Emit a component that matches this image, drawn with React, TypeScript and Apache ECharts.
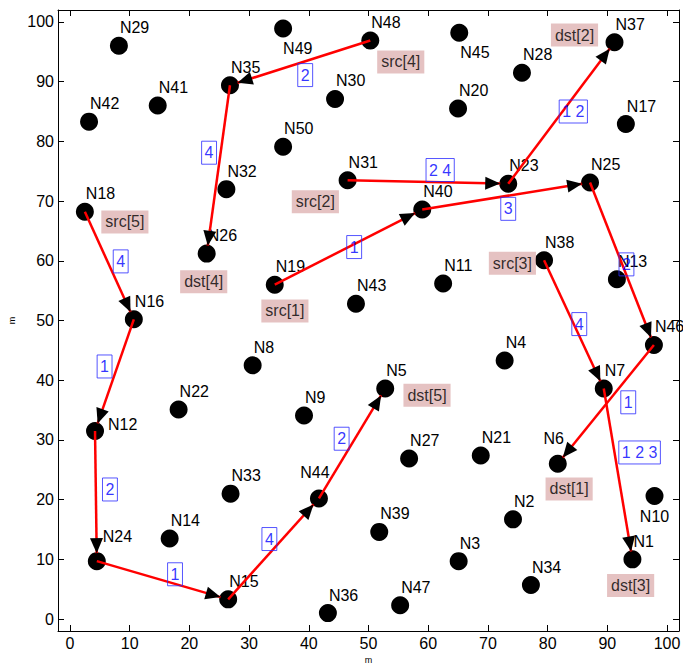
import React, { useEffect, useRef } from "react";
import * as echarts from "echarts";

// Node positions (m), node i+1 at index i
const NODE_X = [
  94.2, 74.2, 65.1, 72.8, 52.8, 81.7, 89.4, 30.6, 39.2, 97.9,
  62.5, 4.2, 91.6, 16.7, 26.5, 10.7, 93.1, 2.5, 34.3, 65.0,
  68.8, 18.2, 73.4, 4.5, 87.1, 22.9, 56.8, 75.7, 8.2, 44.4,
  46.5, 26.2, 26.9, 77.2, 26.8, 43.2, 91.2, 79.4, 51.8, 59.0,
  14.7, 3.2, 47.9, 41.7, 65.2, 97.8, 55.3, 50.3, 35.7, 35.7,
];
const NODE_Y = [
  10.0, 16.7, 9.7, 43.3, 38.6, 26.0, 38.6, 42.5, 34.1, 20.6,
  56.2, 31.5, 56.9, 13.5, 3.3, 50.2, 82.9, 68.2, 56.0, 85.5,
  27.4, 35.1, 72.9, 9.7, 73.1, 61.2, 26.9, 91.5, 96.0, 87.1,
  73.5, 72.0, 21.0, 5.7, 89.4, 1.0, 96.6, 60.1, 14.6, 68.6,
  86.0, 83.3, 52.8, 20.2, 98.2, 45.9, 2.3, 96.9, 98.9, 79.1,
];
const NODE_NAMES = NODE_X.map((_, i) => `N${i + 1}`);

// Directed hops (node numbers) and the flow ids carried on each hop
const EDGE_FROM = [48, 35, 31, 40, 19, 23, 25, 38, 46, 7, 18, 16, 12, 24, 15, 44];
const EDGE_TO = [35, 26, 23, 25, 40, 37, 46, 7, 6, 1, 16, 12, 24, 15, 44, 5];
const EDGE_LABELS = ["2", "4", "2 4", "3", "1", "1 2", "2", "4", "1", "1 2 3", "4", "1", "2", "1", "4", "2"];
const EDGE_LABEL_X = [39.4, 23.3, 62.0, 73.4, 47.6, 84.3, 93.2, 85.3, 93.5, 95.4, 8.5, 5.8, 6.7, 17.6, 33.4, 45.5];
const EDGE_LABEL_Y = [91.1, 78.1, 75.2, 68.7, 62.3, 85.0, 59.4, 49.4, 36.3, 27.9, 59.9, 42.3, 21.7, 7.5, 13.4, 30.2];

// Source / destination tags
const TAG_TEXT = ["src[1]", "src[2]", "src[3]", "src[4]", "src[5]", "dst[1]", "dst[2]", "dst[3]", "dst[4]", "dst[5]"];
const TAG_X = [36.0, 41.1, 74.1, 55.4, 9.2, 83.6, 84.5, 93.9, 22.4, 59.8];
const TAG_Y = [51.6, 69.9, 59.6, 93.3, 66.5, 21.8, 97.8, 5.6, 56.5, 37.5];

const FONT = "Liberation Sans, Arial, Helvetica, sans-serif";

// Where each node name sits relative to its marker (pixels)
const LABEL_SPOT: Record<string, { offset: [number, number]; align: string }> = {
  N12: { offset: [13, -6], align: "left" },
  N24: { offset: [6, -25], align: "left" },
  N44: { offset: [-4, -26], align: "center" },
  N6: { offset: [-4, -25], align: "center" },
  N10: { offset: [0, 20], align: "center" },
  N45: { offset: [1, 20], align: "left" },
  N49: { offset: [0, 20], align: "left" },
};
const DEFAULT_SPOT = { offset: [1, -18] as [number, number], align: "left" };

function frameAxis(position: string, primary: boolean, name?: string) {
  const isX = position === "bottom" || position === "top";
  return {
    type: "value",
    position,
    min: -2,
    max: 102,
    splitNumber: 10,
    minInterval: 10,
    maxInterval: 10,
    name: primary ? name : undefined,
    nameLocation: "middle",
    nameGap: isX ? 20 : 35,
    nameTextStyle: { fontSize: 9, color: "#000", fontFamily: FONT },
    axisLine: { show: true, onZero: false, lineStyle: { color: "#000", width: 1 } },
    axisTick: { show: true, inside: true, length: 6, lineStyle: { color: "#000", width: 1 } },
    axisLabel: {
      show: primary,
      color: "#000",
      fontSize: 16,
      fontFamily: FONT,
      margin: 4,
      showMinLabel: false,
      showMaxLabel: false,
      formatter: (v: number) => (Math.abs(v % 10) < 1e-9 ? String(v) : ""),
    },
    splitLine: { show: false },
  };
}

export default function App() {
  const ref = useRef<HTMLDivElement>(null);

  useEffect(() => {
    if (!ref.current) return;
    const chart = echarts.init(ref.current, undefined, { renderer: "svg" });

    const nodeData = NODE_X.map((x, i) => {
      const name = NODE_NAMES[i];
      const spot = LABEL_SPOT[name] || DEFAULT_SPOT;
      return {
        name,
        value: [x, NODE_Y[i]],
        label: { offset: spot.offset, align: spot.align },
      };
    });

    const edgeData = EDGE_FROM.map((f, i) => {
      const t = EDGE_TO[i];
      return [NODE_X[f - 1], NODE_Y[f - 1], NODE_X[t - 1], NODE_Y[t - 1]];
    });

    const edgeLabelData = EDGE_LABELS.map((txt, i) => ({
      name: txt,
      value: [EDGE_LABEL_X[i], EDGE_LABEL_Y[i]],
    }));

    const tagData = TAG_TEXT.map((txt, i) => ({
      name: txt,
      value: [TAG_X[i], TAG_Y[i]],
    }));

    // arrowhead geometry, in pixels back from the target node's centre
    const TIP = 8;
    const BASE = 23;
    const HALF = 6.5;

    chart.setOption({
      animation: false,
      grid: {
        left: 58,
        right: 4,
        top: 10,
        bottom: 33,
        containLabel: false,
        outerBoundsMode: "none",
      },
      xAxis: [frameAxis("bottom", true, "m"), frameAxis("top", false)],
      yAxis: [frameAxis("left", true, "m"), frameAxis("right", false)],
      series: [
        {
          type: "scatter",
          z: 2,
          symbol: "circle",
          symbolSize: 18,
          itemStyle: { color: "#000", opacity: 1 },
          data: nodeData,
          label: {
            show: true,
            position: "inside",
            verticalAlign: "middle",
            formatter: (p: any) => p.name,
            color: "#000",
            fontSize: 16,
            fontFamily: FONT,
          },
          emphasis: { disabled: true },
        },
        {
          type: "custom",
          z: 3,
          coordinateSystem: "cartesian2d",
          data: edgeData,
          encode: { x: [0, 2], y: [1, 3] },
          renderItem: (_params: any, api: any) => {
            const s = api.coord([api.value(0), api.value(1)]);
            const t = api.coord([api.value(2), api.value(3)]);
            const dx = t[0] - s[0];
            const dy = t[1] - s[1];
            const len = Math.hypot(dx, dy) || 1;
            const ux = dx / len;
            const uy = dy / len;
            const tip = [t[0] - ux * TIP, t[1] - uy * TIP];
            const base = [t[0] - ux * BASE, t[1] - uy * BASE];
            const nx = -uy;
            const ny = ux;
            return {
              type: "group",
              children: [
                {
                  type: "line",
                  shape: { x1: s[0], y1: s[1], x2: tip[0], y2: tip[1] },
                  style: { stroke: "#ff0000", lineWidth: 2.5 },
                },
                {
                  type: "polygon",
                  shape: {
                    points: [
                      tip,
                      [base[0] + nx * HALF, base[1] + ny * HALF],
                      [base[0] - nx * HALF, base[1] - ny * HALF],
                    ],
                  },
                  style: { fill: "#000" },
                },
              ],
            };
          },
        },
        {
          type: "scatter",
          z: 4,
          symbol: "circle",
          symbolSize: 1,
          itemStyle: { color: "rgba(0,0,0,0)" },
          data: edgeLabelData,
          label: {
            show: true,
            position: "inside",
            formatter: (p: any) => p.name,
            color: "#0000ff",
            fontSize: 16,
            fontFamily: FONT,
            borderColor: "#2a2aff",
            borderWidth: 1,
            padding: [4, 3, 3, 3],
          },
          emphasis: { disabled: true },
        },
        {
          type: "scatter",
          z: 4,
          symbol: "circle",
          symbolSize: 1,
          itemStyle: { color: "rgba(0,0,0,0)" },
          data: tagData,
          label: {
            show: true,
            position: "inside",
            formatter: (p: any) => p.name,
            color: "#000",
            fontSize: 16,
            fontFamily: FONT,
            backgroundColor: "#dfb3b3",
            padding: [4, 4, 3, 4],
          },
          emphasis: { disabled: true },
        },
      ],
    });

    return () => chart.dispose();
  }, []);

  return (
    <div
      ref={ref}
      style={{ position: "fixed", left: 0, top: 0, width: 683, height: 664, background: "#fff" }}
    />
  );
}
